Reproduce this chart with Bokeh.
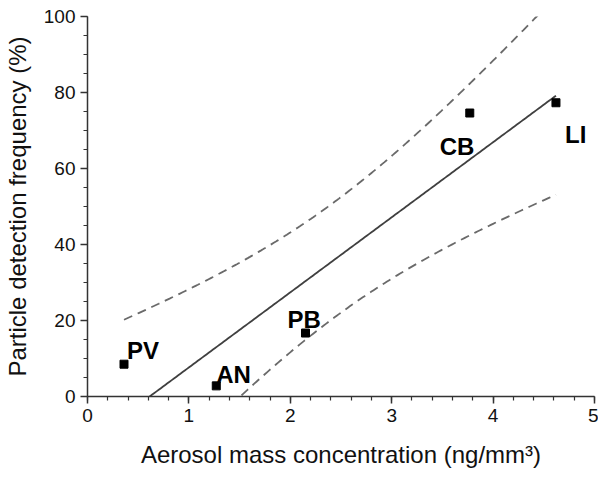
import numpy as np
from bokeh.plotting import figure
from bokeh.models import Range1d, SingleIntervalTicker, ColumnDataSource
from bokeh.core.properties import value
from bokeh.embed import file_html
from bokeh.resources import INLINE

# ---- data ----
labels = ["PV", "AN", "PB", "CB", "LI"]
conc = [0.36, 1.27, 2.15, 3.77, 4.62]        # ng/mm^3
freq = [8.5, 2.8, 16.7, 74.6, 77.3]          # %
t_crit = 2.353                                # t(0.95, df=3) -> 90% confidence band

# label placement (screen px, relative to point)
lab_dx = [3, 0, -18, -30, 9]
lab_dy = [-14, -11, -14, 33, 32]

x = np.array(conc)
y = np.array(freq)
n = len(x)
slope, intercept = np.polyfit(x, y, 1)
resid = y - (slope * x + intercept)
s = np.sqrt(np.sum(resid ** 2) / (n - 2))
sxx = np.sum((x - x.mean()) ** 2)
xg = np.linspace(x.min(), x.max(), 200)
yfit = slope * xg + intercept
hw = t_crit * s * np.sqrt(1.0 / n + (xg - x.mean()) ** 2 / sxx)

FONT = "Liberation Sans"

p = figure(width=598, height=470, output_backend="svg", toolbar_location=None,
           x_range=Range1d(0, 5), y_range=Range1d(0, 100),
           min_border_left=84, min_border_right=4, min_border_top=16, min_border_bottom=74)
p.outline_line_color = None
p.grid.visible = False
p.background_fill_color = "white"
p.border_fill_color = "white"

p.line(xg, yfit, line_color="#404040", line_width=1.8)
p.line(xg, yfit + hw, line_color="#6a6a6a", line_width=1.8, line_dash="9 6")
p.line(xg, yfit - hw, line_color="#6a6a6a", line_width=1.8, line_dash="9 6")

src = ColumnDataSource(dict(x=conc, y=freq, lab=labels, dx=lab_dx, dy=lab_dy))
p.scatter("x", "y", source=src, marker="square", size=8, color="black")
p.text("x", "y", text="lab", source=src, x_offset="dx", y_offset="dy",
       text_font=value(FONT), text_font_style="bold", text_font_size="24px",
       text_align="left", text_baseline="alphabetic", text_color="black")

for ax in (p.xaxis[0], p.yaxis[0]):
    ax.axis_line_color = "#333333"
    ax.axis_line_width = 1.5
    ax.major_tick_line_color = "#333333"
    ax.minor_tick_line_color = "#333333"
    ax.major_tick_line_width = 1.5
    ax.minor_tick_line_width = 1.2
    ax.major_tick_in = 0
    ax.major_tick_out = 7
    ax.minor_tick_in = 0
    ax.minor_tick_out = 4
    ax.major_label_text_font = FONT
    ax.major_label_text_font_size = "19px"
    ax.major_label_text_color = "#111111"
    ax.major_label_standoff = 5
    ax.axis_label_text_font = FONT
    ax.axis_label_text_font_size = "24px"
    ax.axis_label_text_font_style = "normal"
    ax.axis_label_text_color = "#111111"

p.xaxis[0].ticker = SingleIntervalTicker(interval=1, num_minor_ticks=5)
p.yaxis[0].ticker = SingleIntervalTicker(interval=20, num_minor_ticks=4)
p.xaxis[0].axis_label = "Aerosol mass concentration (ng/mm³)"
p.yaxis[0].axis_label = "Particle detection frequency (%)"
p.xaxis[0].axis_label_standoff = 16
p.yaxis[0].axis_label_standoff = 10

open("out.html", "w").write(file_html(p, INLINE))
